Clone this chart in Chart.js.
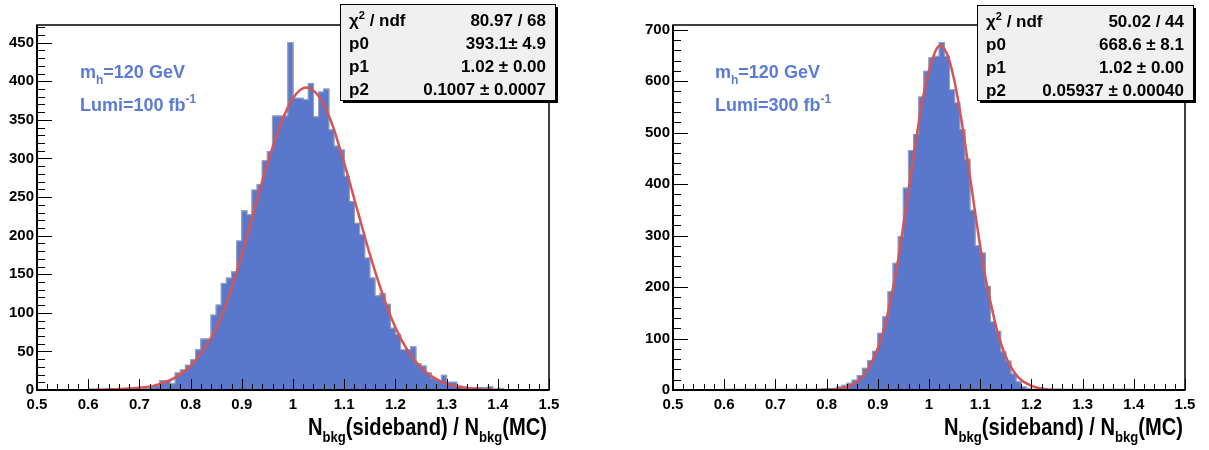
<!DOCTYPE html>
<html>
<head>
<meta charset="utf-8">
<title>Nbkg(sideband) / Nbkg(MC)</title>
<script src="https://cdn.jsdelivr.net/npm/chart.js@4.4.1/dist/chart.umd.min.js"></script>
<style>
  html, body { margin: 0; padding: 0; background: #fff; }
  .panel { position: absolute; top: 0; }
</style>
</head>
<body>
<canvas id="lumi100" class="panel" width="604" height="450" style="left:0px"></canvas>
<canvas id="lumi300" class="panel" width="604" height="450" style="left:605px"></canvas>
<script>
// binning: 100 bins of 0.01 from 0.5 to 1.5
const xMin = 0.5;
const xMax = 1.5;
const nBins = 100;
const binCenters = Array.from({ length: nBins }, (_, i) => +(xMin + (i + 0.5) * (xMax - xMin) / nBins).toFixed(3));

// entries per bin, Lumi = 100 fb-1
const counts100 = [
  0, 0, 0, 0, 0, 0, 0, 0, 0, 0,
  0, 0, 0, 0, 0, 0, 0, 0, 0, 0,
  1, 2, 4, 5, 12, 12, 8, 22, 26, 32,
  39, 52, 66, 66, 97, 110, 138, 145, 153, 193,
  232, 227, 259, 266, 297, 309, 355, 355, 355, 450,
  378, 378, 376, 397, 354, 386, 390, 337, 316, 311,
  277, 244, 216, 201, 171, 145, 122, 125, 111, 80,
  72, 52, 52, 56, 34, 31, 22, 15, 12, 19,
  10, 10, 5, 4, 3, 3, 3, 3, 4, 0,
  2, 0, 0, 0, 0, 0, 0, 0, 0, 0
];

// entries per bin, Lumi = 300 fb-1
const counts300 = [
  0, 0, 0, 0, 0, 0, 0, 0, 0, 0,
  0, 0, 0, 0, 0, 0, 0, 0, 0, 0,
  0, 0, 0, 0, 0, 0, 0, 1, 1, 2,
  2, 3, 6, 9, 13, 19, 28, 42, 57, 75,
  110, 142, 191, 246, 298, 392, 465, 496, 569, 619,
  645, 648, 675, 648, 583, 558, 506, 448, 349, 280,
  266, 201, 132, 114, 74, 56, 31, 16, 6, 3,
  1, 1, 0, 0, 0, 0, 0, 0, 0, 0,
  0, 0, 0, 0, 0, 0, 0, 0, 0, 0,
  0, 0, 0, 0, 0, 0, 0, 0, 0, 0
];

// gaussian fit curves
const fitX100 = [0.60, 0.65, 0.70, 0.725, 0.75, 0.775, 0.80, 0.825, 0.85, 0.875,
  0.90, 0.925, 0.95, 0.975, 1.00, 1.025, 1.05, 1.075, 1.10, 1.125,
  1.15, 1.175, 1.20, 1.225, 1.25, 1.275, 1.30, 1.325, 1.35, 1.375, 1.40];
const fitY100 = [0.3, 1, 3, 5, 10, 18, 31, 52, 80, 122,
  175, 235, 293, 343, 378, 392, 381, 347, 294, 235,
  176, 124, 81, 50, 29, 16, 8, 4, 1.8, 0.8, 0.3];

const fitX300 = [0.60, 0.70, 0.775, 0.80, 0.825, 0.85, 0.8625, 0.875, 0.8875, 0.90,
  0.9125, 0.925, 0.9375, 0.95, 0.9625, 0.975, 0.9875, 1.00, 1.0125, 1.022,
  1.035, 1.0475, 1.06, 1.0725, 1.085, 1.0975, 1.11, 1.1225, 1.135, 1.1475,
  1.16, 1.175, 1.20, 1.225, 1.25, 1.30, 1.40];
const fitY300 = [0, 0, 0.1, 0.6, 2, 10, 18, 32, 53, 81,
  120, 175, 240, 320, 405, 488, 565, 620, 658, 669,
  653, 610, 545, 465, 380, 295, 220, 160, 108, 71,
  45, 24, 8, 2, 0.5, 0, 0];

// axis ticks
const xTickValues = [0.5, 0.6, 0.7, 0.8, 0.9, 1, 1.1, 1.2, 1.3, 1.4, 1.5];
const yTicks100 = [0, 50, 100, 150, 200, 250, 300, 350, 400, 450];
const yTicks300 = [0, 100, 200, 300, 400, 500, 600, 700];

// fit result boxes
const stats100 = [['chi2', '80.97 / 68'], ['p0', '393.1\u00b1 4.9'], ['p1', '1.02 \u00b1 0.00'], ['p2', '0.1007 \u00b1 0.0007']];
const stats300 = [['chi2', '50.02 / 44'], ['p0', '668.6 \u00b1 8.1'], ['p1', '1.02 \u00b1 0.00'], ['p2', '0.05937 \u00b1 0.00040']];

const FONT = '"Liberation Sans", Arial, Helvetica, sans-serif';
const BAR_BLUE = '#5a78cb';
const TEXT_BLUE = '#5b7bd5';
const FIT_RED = '#d65454';

function font(size) { return 'bold ' + size + 'px ' + FONT; }

// draw text pieces with sub/superscripts; optional target width squeezes it
function drawRich(ctx, parts, x, y, size, align, fitWidth) {
  const small = Math.round(size * 0.65);
  let w = 0;
  parts.forEach(p => { ctx.font = font(p.s ? small : size); w += ctx.measureText(p.t).width; });
  const sx = fitWidth ? fitWidth / w : 1;
  ctx.save();
  ctx.translate(align === 'right' ? x - w * sx : x, y);
  ctx.scale(sx, 1);
  ctx.textAlign = 'left';
  ctx.textBaseline = 'alphabetic';
  let cx = 0;
  parts.forEach(p => {
    ctx.font = font(p.s ? small : size);
    const dy = p.s === 'sub' ? size * 0.32 : p.s === 'sup' ? -size * 0.42 : 0;
    ctx.fillText(p.t, cx, dy);
    cx += ctx.measureText(p.t).width;
  });
  ctx.restore();
}

function drawStatBox(ctx, b, rows) {
  ctx.fillStyle = '#000';
  ctx.fillRect(b.x + 3, b.y + 3, b.w, b.h);
  ctx.fillStyle = '#f0f0f0';
  ctx.fillRect(b.x, b.y, b.w, b.h);
  ctx.strokeStyle = '#000';
  ctx.lineWidth = 1;
  ctx.strokeRect(b.x + 0.5, b.y + 0.5, b.w, b.h);
  ctx.fillStyle = '#000';
  rows.forEach((r, i) => {
    const base = b.y + 22 + i * 23;
    const label = r[0] === 'chi2'
      ? [{ t: '\u03c7' }, { t: '2', s: 'sup' }, { t: ' / ndf' }]
      : [{ t: r[0] }];
    drawRich(ctx, label, b.x + 9, base, 17, 'left');
    drawRich(ctx, [{ t: r[1] }], b.x + b.w - 9, base, 17, 'right');
  });
}

// ROOT-like frame, inner ticks, stat box and labels
const rootStyle = {
  id: 'rootStyle',
  afterDraw(chart, args, o) {
    const { ctx, chartArea: a, scales: { x, y } } = chart;
    ctx.save();
    ctx.strokeStyle = '#000';
    ctx.lineWidth = 1;
    ctx.beginPath();
    for (let i = 0; i <= 50; i++) {
      const px = Math.round(x.getPixelForValue(xMin + i * 0.02)) + 0.5;
      const len = i % 5 === 0 ? 11 : 6;
      ctx.moveTo(px, a.bottom);
      ctx.lineTo(px, a.bottom - len);
    }
    for (let v = 0; v <= y.max; v += o.minorY) {
      const py = Math.round(y.getPixelForValue(v)) + 0.5;
      const len = v % o.majorY === 0 ? 15 : 8;
      ctx.moveTo(a.left, py);
      ctx.lineTo(a.left + len, py);
    }
    ctx.stroke();

    ctx.lineWidth = 1.5;
    ctx.strokeRect(a.left, a.top, a.right - a.left, a.bottom - a.top);
    ctx.lineWidth = 2;
    ctx.beginPath();
    ctx.moveTo(a.left, a.top);
    ctx.lineTo(a.left, a.bottom);
    ctx.lineTo(a.right, a.bottom);
    ctx.stroke();

    drawStatBox(ctx, o.box, o.stats);

    ctx.fillStyle = TEXT_BLUE;
    drawRich(ctx, [{ t: 'm' }, { t: 'h', s: 'sub' }, { t: '=120 GeV' }], o.textX, 78, 18, 'left');
    drawRich(ctx, [{ t: 'Lumi=' + o.lumi + ' fb' }, { t: '-1', s: 'sup' }], o.textX, 111, 18, 'left');

    ctx.fillStyle = '#000';
    drawRich(ctx, [{ t: 'N' }, { t: 'bkg', s: 'sub' }, { t: '(sideband) / N' }, { t: 'bkg', s: 'sub' }, { t: '(MC)' }],
      a.right - 2, 435, 23, 'right', 239);
    ctx.restore();
  }
};

function makePanel(id, counts, fitX, fitY, yTicks, yMax, minorY, yWidth, padRight, box, stats, textX, lumi) {
  const bars = binCenters.map((c, i) => ({ x: c, y: counts[i] }));
  const fit = fitX.map((v, i) => ({ x: v, y: fitY[i] }));
  return new Chart(document.getElementById(id), {
    type: 'bar',
    data: {
      datasets: [
        {
          type: 'line', data: fit, borderColor: FIT_RED, borderWidth: 2.5,
          pointRadius: 0, cubicInterpolationMode: 'monotone', fill: false, order: 0
        },
        {
          type: 'line', data: bars, stepped: 'middle', borderColor: 'rgba(165,168,185,0.85)',
          borderWidth: 1, pointRadius: 0, fill: false, order: 1
        },
        {
          type: 'bar', data: bars, backgroundColor: BAR_BLUE, borderWidth: 0,
          barPercentage: 1, categoryPercentage: 1, inflateAmount: 0.6, order: 2
        }
      ]
    },
    options: {
      responsive: false,
      animation: false,
      events: [],
      layout: { padding: { left: 0, right: padRight, top: 25, bottom: 0 } },
      plugins: {
        legend: { display: false },
        tooltip: { enabled: false },
        rootStyle: { majorY: yTicks[1], minorY: minorY, box: box, stats: stats, textX: textX, lumi: lumi }
      },
      scales: {
        x: {
          type: 'linear', min: xMin, max: xMax, offset: false,
          grid: { display: false, drawTicks: false }, border: { display: false },
          afterBuildTicks: s => { s.ticks = xTickValues.map(v => ({ value: v })); },
          afterFit: s => { s.height = 60; },
          ticks: { autoSkip: false, maxRotation: 0, padding: 6, color: '#000', font: { family: FONT, size: 15, weight: 'bold' },
            callback: v => String(v) }
        },
        y: {
          type: 'linear', min: 0, max: yMax,
          grid: { display: false, drawTicks: false }, border: { display: false },
          afterBuildTicks: s => { s.ticks = yTicks.map(v => ({ value: v })); },
          afterFit: s => { s.width = yWidth; },
          ticks: { autoSkip: false, padding: 3, color: '#000', font: { family: FONT, size: 15, weight: 'bold' },
            callback: v => String(v) }
        }
      }
    },
    plugins: [rootStyle]
  });
}

makePanel('lumi100', counts100, fitX100, fitY100, yTicks100, 473, 10, 37, 55,
  { x: 340, y: 4, w: 215, h: 96 }, stats100, 80, '100');
makePanel('lumi300', counts300, fitX300, fitY300, yTicks300, 709, 20, 68, 24,
  { x: 372, y: 5, w: 216, h: 95 }, stats300, 110, '300');
</script>
</body>
</html>
